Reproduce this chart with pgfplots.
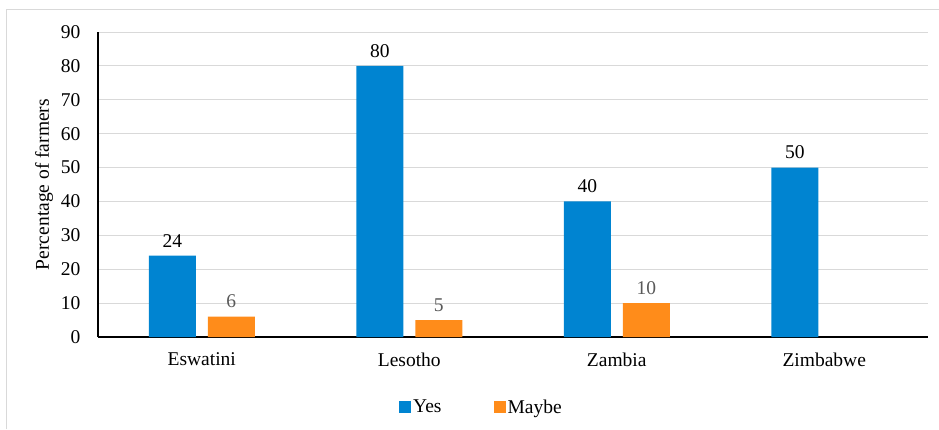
\documentclass[border=0pt]{standalone}
\usepackage{fontspec}
\setmainfont{Liberation Serif}
\usepackage{pgfplots}
\pgfplotsset{compat=1.18}

\definecolor{yesblue}{RGB}{0,132,209}
\definecolor{maybeorange}{RGB}{255,140,26}
\definecolor{gridgray}{RGB}{217,217,217}
\definecolor{labelgray}{RGB}{89,89,89}

\begin{document}
\begin{tikzpicture}
  % page frame
  \path[use as bounding box] (0,0) rectangle (939pt,429pt);
  \draw[gridgray, line width=1pt] (6pt,0) -- (6pt,419pt) -- (939pt,419pt);
  \begin{axis}[
    at={(98pt,92pt)}, anchor=south west,
    scale only axis,
    width=830pt, height=305pt,
    font=\fontsize{19.5}{23}\selectfont,
    ybar=12pt, bar width=47pt,
    xmin=-0.5, xmax=3.5,
    ymin=0, ymax=90,
    xtick={0,1,2,3},
    xticklabels={Eswatini,Lesotho,Zambia,Zimbabwe},
    ytick={0,10,...,90},
    major tick length=0pt,
    axis x line*=bottom,
    axis y line*=left,
    axis line style={black, line width=1.3pt},
    ymajorgrids,
    grid style={gridgray, line width=1pt},
    /pgf/number format/assume math mode=true,
    ylabel={Percentage of farmers},
    ylabel style={at={(axis description cs:-0.065,0.5)}, anchor=center},
    yticklabel style={xshift=-14pt},
    xticklabel style={yshift=-12pt},
    legend style={at={(axis description cs:0.462,-0.2295)}, anchor=center,
      draw=none, fill=none, legend columns=2,
      /tikz/every even column/.append style={column sep=50pt}},
    legend image code/.code={\fill[#1] (0pt,-6pt) rectangle (12pt,6pt);},
    nodes near coords,
    every node near coord/.append style={anchor=south, yshift=5pt},
  ]
    \addplot[fill=yesblue, draw=none,
      nodes near coords style={text=black}]
      coordinates {(0,24) (1,80) (2,40) (3,50)};
    \addplot[fill=maybeorange, draw=none,
      nodes near coords style={text=labelgray}]
      coordinates {(0,6) (1,5) (2,10)};
    \legend{Yes,Maybe}
  \end{axis}
\end{tikzpicture}
\end{document}
